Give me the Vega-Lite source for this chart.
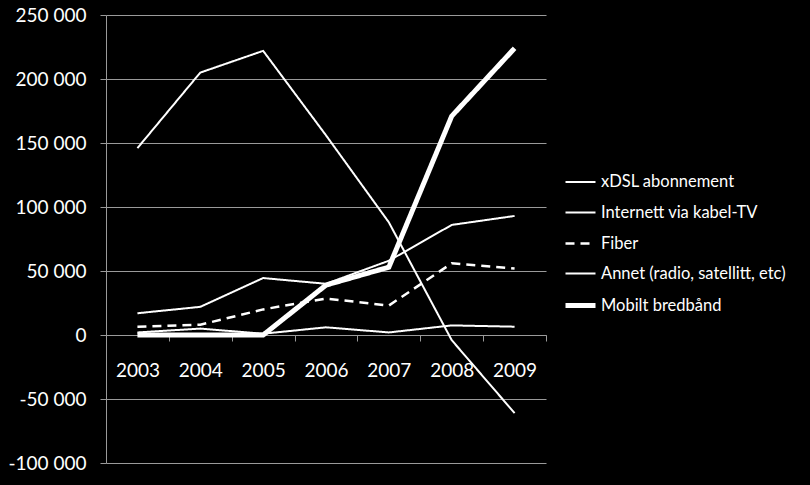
{
  "$schema": "https://vega.github.io/schema/vega-lite/v6.json",
  "width": 440,
  "height": 448,
  "autosize": "none",
  "padding": {"left": 106, "top": 15, "right": 264, "bottom": 22},
  "background": "black",
  "config": {
    "view": {"stroke": null},
    "font": "Lato"
  },
  "data": {
    "values": [
      {"year": "2003", "series": "xDSL abonnement", "value": 146000},
      {"year": "2004", "series": "xDSL abonnement", "value": 205000},
      {"year": "2005", "series": "xDSL abonnement", "value": 222000},
      {"year": "2006", "series": "xDSL abonnement", "value": 156000},
      {"year": "2007", "series": "xDSL abonnement", "value": 88000},
      {"year": "2008", "series": "xDSL abonnement", "value": -4000},
      {"year": "2009", "series": "xDSL abonnement", "value": -61000},
      {"year": "2003", "series": "Internett via kabel-TV", "value": 17000},
      {"year": "2004", "series": "Internett via kabel-TV", "value": 22000},
      {"year": "2005", "series": "Internett via kabel-TV", "value": 44500},
      {"year": "2006", "series": "Internett via kabel-TV", "value": 40000},
      {"year": "2007", "series": "Internett via kabel-TV", "value": 58000},
      {"year": "2008", "series": "Internett via kabel-TV", "value": 86000},
      {"year": "2009", "series": "Internett via kabel-TV", "value": 93000},
      {"year": "2003", "series": "Fiber", "value": 6500},
      {"year": "2004", "series": "Fiber", "value": 8000},
      {"year": "2005", "series": "Fiber", "value": 20000},
      {"year": "2006", "series": "Fiber", "value": 28500},
      {"year": "2007", "series": "Fiber", "value": 23000},
      {"year": "2008", "series": "Fiber", "value": 56000},
      {"year": "2009", "series": "Fiber", "value": 52000},
      {"year": "2003", "series": "Annet (radio, satellitt, etc)", "value": 2000},
      {"year": "2004", "series": "Annet (radio, satellitt, etc)", "value": 5000},
      {"year": "2005", "series": "Annet (radio, satellitt, etc)", "value": 1000},
      {"year": "2006", "series": "Annet (radio, satellitt, etc)", "value": 6000},
      {"year": "2007", "series": "Annet (radio, satellitt, etc)", "value": 2000},
      {"year": "2008", "series": "Annet (radio, satellitt, etc)", "value": 7500},
      {"year": "2009", "series": "Annet (radio, satellitt, etc)", "value": 6500},
      {"year": "2003", "series": "Mobilt bredbånd", "value": 0},
      {"year": "2004", "series": "Mobilt bredbånd", "value": 0},
      {"year": "2005", "series": "Mobilt bredbånd", "value": 0},
      {"year": "2006", "series": "Mobilt bredbånd", "value": 39000},
      {"year": "2007", "series": "Mobilt bredbånd", "value": 53000},
      {"year": "2008", "series": "Mobilt bredbånd", "value": 171000},
      {"year": "2009", "series": "Mobilt bredbånd", "value": 224000}
    ]
  },
  "mark": {"type": "line", "color": "white", "strokeJoin": "miter"},
  "encoding": {
    "x": {
      "field": "year",
      "type": "ordinal",
      "bandPosition": 0.5,
      "scale": {"type": "band", "paddingInner": 0, "paddingOuter": 0},
      "axis": {
        "title": null,
        "orient": "bottom",
        "offset": -128,
        "tickBand": "extent",
        "labelAngle": 0,
        "labelColor": "white",
        "labelFont": "Lato",
        "labelFontSize": 19,
        "labelPadding": 20,
        "domainColor": "#9a9a9a",
        "tickColor": "#9a9a9a",
        "tickSize": 6,
        "grid": false
      }
    },
    "y": {
      "field": "value",
      "type": "quantitative",
      "scale": {"domain": [-100000, 250000], "nice": false, "zero": false},
      "axis": {
        "title": null,
        "values": [-100000, -50000, 0, 50000, 100000, 150000, 200000, 250000],
        "labelExpr": "(datum.value < 0 ? '-' : '') + replace(format(abs(datum.value), ','), ',', ' ')",
        "labelColor": "white",
        "labelFont": "Lato",
        "labelFontSize": 19,
        "labelPadding": 14,
        "domainColor": "#9a9a9a",
        "tickColor": "#9a9a9a",
        "tickSize": 6,
        "gridColor": "#9a9a9a",
        "gridWidth": 1,
        "gridOpacity": 1
      }
    },
    "detail": {"field": "series"},
    "strokeDash": {
      "field": "series",
      "type": "ordinal",
      "scale": {
        "domain": ["xDSL abonnement", "Internett via kabel-TV", "Fiber", "Annet (radio, satellitt, etc)", "Mobilt bredbånd"],
        "range": [[1, 0], [1, 0], [9, 6], [1, 0], [1, 0]]
      },
      "legend": {
        "title": null,
        "orient": "none",
        "legendX": 457,
        "legendY": 151,
        "symbolType": "stroke",
        "symbolSize": 900,
        "symbolStrokeColor": "white",
        "labelColor": "white",
        "labelFont": "Lato",
        "labelFontSize": 16.5,
        "labelOffset": 3,
        "labelLimit": 300,
        "rowPadding": 5.5
      }
    },
    "strokeWidth": {
      "field": "series",
      "type": "ordinal",
      "scale": {
        "type": "ordinal",
        "domain": ["xDSL abonnement", "Internett via kabel-TV", "Fiber", "Annet (radio, satellitt, etc)", "Mobilt bredbånd"],
        "range": [2, 2, 2.5, 2, 5]
      },
      "legend": {
        "title": null,
        "orient": "none",
        "legendX": 457,
        "legendY": 151,
        "symbolType": "stroke",
        "symbolSize": 900,
        "symbolStrokeColor": "white",
        "labelColor": "white",
        "labelFont": "Lato",
        "labelFontSize": 16.5,
        "labelOffset": 3,
        "labelLimit": 300,
        "rowPadding": 5.5
      }
    }
  }
}
